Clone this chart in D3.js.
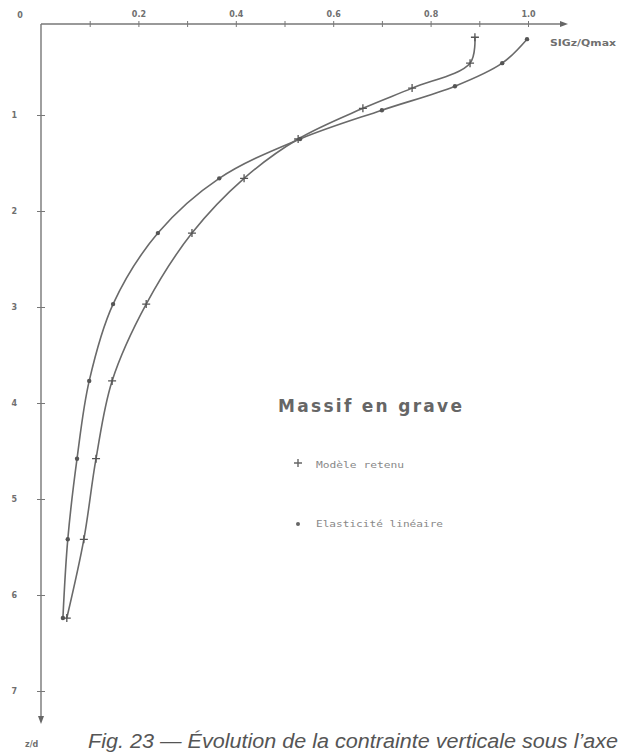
<!DOCTYPE html>
<html>
<head>
<meta charset="utf-8">
<script src="https://cdn.jsdelivr.net/npm/d3@7.9.0/dist/d3.min.js"></script>
<style>
  body { margin: 0; background: #fff; }
  svg { display: block; }
  .axis text { font-family: "DejaVu Sans", sans-serif; font-weight: bold; font-size: 8px; fill: #6f6f6f; }
  .axis line { stroke: #777; }
</style>
</head>
<body>
<div id="chart"></div>
<script>
// depths z/d and SIGz/Qmax
const zModele = [0.19, 0.46, 0.72, 0.93, 1.25, 1.66, 2.23, 2.97, 3.77, 4.58, 5.42, 6.24];
const sigModele = [0.891, 0.881, 0.762, 0.661, 0.528, 0.417, 0.310, 0.216, 0.146, 0.113, 0.088, 0.053];

const zElastic = [0.21, 0.46, 0.70, 0.95, 1.25, 1.66, 2.23, 2.97, 3.77, 4.58, 5.42, 6.24];
const sigElastic = [0.998, 0.947, 0.850, 0.700, 0.532, 0.366, 0.240, 0.148, 0.099, 0.074, 0.055, 0.045];

const xTicks = [0.1, 0.2, 0.3, 0.4, 0.5, 0.6, 0.7, 0.8, 0.9, 1.0];
const xLabels = ['', '0.2', '', '0.4', '', '0.6', '', '0.8', '', '1.0'];
const yTicks = [1, 2, 3, 4, 5, 6, 7];

const width = 619, height = 752;
const ink = '#6a6a6a';

const x = d3.scaleLinear().domain([0, 1]).range([41, 528]);
const y = d3.scaleLinear().domain([0, 7]).range([19, 691]);
const axisY = 24;

const svg = d3.select('#chart').append('svg')
  .attr('width', width)
  .attr('height', height);

// x axis (top)
const gx = svg.append('g')
  .attr('class', 'axis')
  .attr('transform', `translate(0,${axisY})`)
  .call(d3.axisTop(x).tickValues(xTicks).tickSize(0).tickPadding(7)
    .tickFormat((d, i) => xLabels[i]));
gx.select('.domain').remove();
gx.selectAll('.tick line').attr('y1', -3).attr('y2', 3).attr('stroke-width', 1);

// y axis (left)
const gy = svg.append('g')
  .attr('class', 'axis')
  .attr('transform', `translate(${x(0)},0)`)
  .call(d3.axisLeft(y).tickValues(yTicks).tickSize(0).tickPadding(24)
    .tickFormat(d3.format('d')));
gy.select('.domain').remove();
gy.selectAll('.tick line').attr('x1', -4).attr('x2', 4).attr('stroke-width', 1);

// axis lines + arrows
svg.append('line')
  .attr('x1', x(0)).attr('y1', axisY).attr('x2', 563).attr('y2', axisY)
  .attr('stroke', '#777').attr('stroke-width', 1.4);
svg.append('path')
  .attr('d', `M568,${axisY} L560,${axisY - 3} L560,${axisY + 3} Z`)
  .attr('fill', '#666');
svg.append('line')
  .attr('x1', x(0)).attr('y1', axisY).attr('x2', x(0)).attr('y2', 718)
  .attr('stroke', '#777').attr('stroke-width', 1.4);
svg.append('path')
  .attr('d', `M${x(0)},724 L${x(0) - 3},716 L${x(0) + 3},716 Z`)
  .attr('fill', '#666');

svg.append('text')
  .attr('x', 20).attr('y', 18)
  .attr('text-anchor', 'middle')
  .style('font-family', '"DejaVu Sans", sans-serif')
  .style('font-weight', 'bold').style('font-size', '8px').style('fill', '#6f6f6f')
  .text('0');

svg.append('text')
  .attr('x', 550).attr('y', 46)
  .style('font-family', '"DejaVu Sans", sans-serif')
  .style('font-weight', 'bold').style('font-size', '8px').style('fill', '#6f6f6f')
  .attr('textLength', 66).attr('lengthAdjust', 'spacingAndGlyphs')
  .text('SIGz/Qmax');

svg.append('text')
  .attr('x', 25).attr('y', 747)
  .style('font-family', '"DejaVu Sans", sans-serif')
  .style('font-weight', 'bold').style('font-size', '8px').style('fill', '#6f6f6f')
  .text('z/d');

// curves
const line = d3.line()
  .x(d => x(d[1]))
  .y(d => y(d[0]))
  .curve(d3.curveCatmullRom.alpha(0.5));

const modele = zModele.map((z, i) => [z, sigModele[i]]);
const elastic = zElastic.map((z, i) => [z, sigElastic[i]]);

svg.append('path')
  .datum(modele)
  .attr('d', line)
  .attr('fill', 'none').attr('stroke', ink).attr('stroke-width', 1.6);

svg.append('path')
  .datum(elastic)
  .attr('d', line)
  .attr('fill', 'none').attr('stroke', ink).attr('stroke-width', 1.6);

// markers
svg.append('g').selectAll('path')
  .data(modele)
  .join('path')
  .attr('d', d => {
    const cx = x(d[1]), cy = y(d[0]);
    return `M${cx - 4},${cy} H${cx + 4} M${cx},${cy - 4} V${cy + 4}`;
  })
  .attr('stroke', '#555').attr('stroke-width', 1.3);

svg.append('g').selectAll('circle')
  .data(elastic)
  .join('circle')
  .attr('cx', d => x(d[1]))
  .attr('cy', d => y(d[0]))
  .attr('r', 2.2)
  .attr('fill', '#555');

// title + legend
svg.append('text')
  .attr('x', 278).attr('y', 412)
  .style('font-family', '"DejaVu Sans", sans-serif')
  .style('font-weight', 'bold').style('font-size', '17px').style('fill', '#666')
  .attr('textLength', 184).attr('lengthAdjust', 'spacing')
  .text('Massif en grave');

svg.append('path')
  .attr('d', 'M294,463 H302 M298,459 V467')
  .attr('stroke', '#666').attr('stroke-width', 1.4);
svg.append('text')
  .attr('x', 316).attr('y', 468)
  .style('font-family', '"DejaVu Sans Mono", monospace')
  .style('font-size', '9px').style('fill', '#888')
  .attr('textLength', 88).attr('lengthAdjust', 'spacingAndGlyphs')
  .text('Modèle retenu');

svg.append('circle')
  .attr('cx', 298).attr('cy', 524).attr('r', 2)
  .attr('fill', '#666');
svg.append('text')
  .attr('x', 316).attr('y', 527)
  .style('font-family', '"DejaVu Sans Mono", monospace')
  .style('font-size', '9px').style('fill', '#888')
  .attr('textLength', 127).attr('lengthAdjust', 'spacingAndGlyphs')
  .text('Elasticité linéaire');

// caption
svg.append('text')
  .attr('x', 88).attr('y', 748)
  .style('font-family', '"Liberation Sans", Arial, sans-serif')
  .style('font-style', 'italic')
  .style('font-size', '20px').style('fill', '#555')
  .attr('textLength', 530).attr('lengthAdjust', 'spacingAndGlyphs')
  .text('Fig. 23 — Évolution de la contrainte verticale sous l\u2019axe');
</script>
</body>
</html>
